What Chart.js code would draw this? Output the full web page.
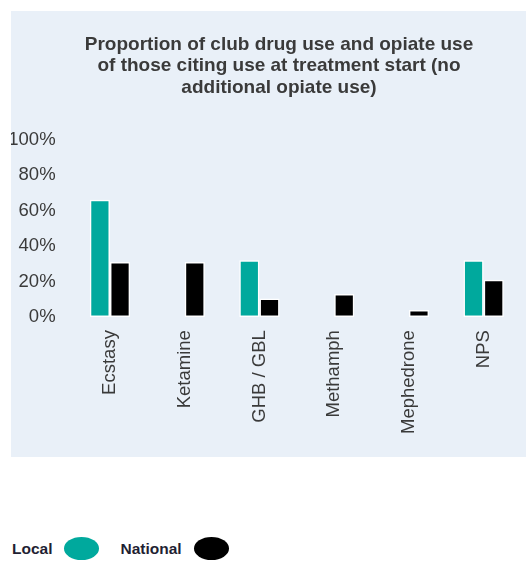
<!DOCTYPE html>
<html>
<head>
<meta charset="utf-8">
<script src="https://cdn.jsdelivr.net/npm/chart.js@4"></script>
<style>
  body { margin: 0; background: #fff; font-family: "Liberation Sans", Arial, sans-serif; overflow: hidden; }
  #panel { position: absolute; left: 11px; top: 11px; width: 515px; height: 446px; background: #e9f0f8; }
  #legend { position: absolute; left: 12px; top: 537px; display: flex; align-items: center; font-size: 15.5px; font-weight: bold; color: #1f1f33; }
  #legend .item { display: flex; align-items: center; margin-right: 21px; }
  #legend .dot { display: inline-block; width: 35px; height: 23px; border-radius: 50%; margin-left: 12px; }
</style>
</head>
<body>
<div id="panel"><canvas id="chart"></canvas></div>
<div id="legend"></div>
<script>
const categories = ["Ecstasy", "Ketamine", "GHB / GBL", "Methamph", "Mephedrone", "NPS"];
const localValues = [66, null, 32, null, null, 32];
const nationalValues = [31, 31, 10.5, 13, 4, 21];
const yTicks = [0, 20, 40, 60, 80, 100];

const TEAL = "#00a99d";
const BLACK = "#000000";
const TEXT = "#3a3a3a";
const FONT = "'Liberation Sans', Arial, sans-serif";

const datasets = [
  {
    label: "Local",
    data: localValues,
    backgroundColor: TEAL,
    borderColor: "#ffffff",
    borderWidth: 1.5,
    borderSkipped: false,
    categoryPercentage: 0.54,
    barPercentage: 1,
  },
  {
    label: "National",
    data: nationalValues,
    backgroundColor: BLACK,
    borderColor: "#ffffff",
    borderWidth: 1.5,
    borderSkipped: false,
    categoryPercentage: 0.54,
    barPercentage: 1,
  },
];

// the title sits a little right of the canvas centre in the original
const shiftTitle = {
  id: "shiftTitle",
  afterLayout(chart) {
    if (chart.titleBlock) chart.titleBlock.left += 26;
  },
};

const chart = new Chart(document.getElementById("chart").getContext("2d"), {
  type: "bar",
  data: { labels: categories, datasets: datasets },
  plugins: [shiftTitle],
  options: {
    responsive: true,
    maintainAspectRatio: false,
    animation: false,
    layout: { padding: { left: 0, right: 5, top: 0, bottom: 10 } },
    plugins: {
      legend: { display: false },
      tooltip: { enabled: false },
      title: {
        display: true,
        text: [
          "Proportion of club drug use and opiate use",
          "of those citing use at treatment start (no",
          "additional opiate use)",
        ],
        color: TEXT,
        font: { family: FONT, size: 19, weight: "bold", lineHeight: 1.13 },
        padding: { top: 23, bottom: 41 },
      },
    },
    scales: {
      y: {
        min: 0,
        max: 100,
        afterBuildTicks: (axis) => {
          axis.ticks = yTicks.map((v) => ({ value: v }));
        },
        afterFit: (axis) => {
          axis.width = 61.6;
        },
        grid: { display: false, drawTicks: false },
        border: { display: false },
        ticks: {
          padding: 17,
          color: TEXT,
          font: { family: FONT, size: 18.5 },
          callback: (v) => v + "%",
        },
      },
      x: {
        grid: { display: false, drawTicks: false },
        border: { display: false },
        ticks: {
          autoSkip: false,
          minRotation: 90,
          maxRotation: 90,
          padding: 13,
          color: TEXT,
          font: { family: FONT, size: 18.5 },
        },
      },
    },
  },
});

// legend: label first, then the marker
const legend = document.getElementById("legend");
datasets.forEach((ds) => {
  const item = document.createElement("span");
  item.className = "item";
  const txt = document.createElement("span");
  txt.textContent = ds.label;
  const dot = document.createElement("span");
  dot.className = "dot";
  dot.style.background = ds.backgroundColor;
  item.appendChild(txt);
  item.appendChild(dot);
  legend.appendChild(item);
});
</script>
</body>
</html>
